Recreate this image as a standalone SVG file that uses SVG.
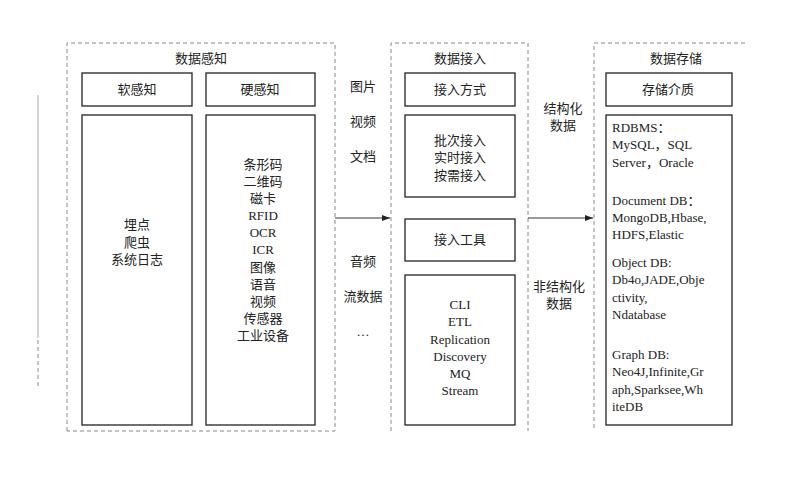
<svg xmlns="http://www.w3.org/2000/svg" width="800" height="500" viewBox="0 0 800 500">
<defs>
<style>
text{font-family:"Liberation Serif","Noto Sans CJK SC",serif;font-size:13px;fill:#222}
.c{text-anchor:middle}
.dash{fill:none;stroke:#888;stroke-width:1;stroke-dasharray:4,3}
.box{fill:#fff;stroke:#222;stroke-width:1.3}
.ln{stroke:#333;stroke-width:1;fill:none}
</style>
<marker id="ah" markerWidth="8" markerHeight="6" refX="8" refY="3" orient="auto" markerUnits="userSpaceOnUse"><path d="M0,0L8,3L0,6z" fill="#222"/></marker>
</defs>
<rect width="800" height="500" fill="#fff"/>
<line x1="38" y1="95" x2="38" y2="338" stroke="#aaa"/>
<line x1="38" y1="340" x2="38" y2="388" class="dash"/>
<g id="sense">
<path class="dash" d="M67,431V43H335V431H67"/>
<text class="c" x="201" y="63">数据感知</text>
</g>
<g id="soft"><rect class="box" x="82" y="73" width="110" height="33"/><text class="c" x="137" y="94">软感知</text></g>
<g id="hard"><rect class="box" x="206" y="73" width="109" height="33"/><text class="c" x="260" y="94">硬感知</text></g>
<g id="softlist"><rect class="box" x="82" y="115" width="110" height="310"/>
<text class="c" x="137" y="229">埋点</text><text class="c" x="137" y="247">爬虫</text><text class="c" x="137" y="264">系统日志</text></g>
<g id="hardlist"><rect class="box" x="206" y="115" width="109" height="310"/>
<text class="c" x="263" y="169">条形码</text><text class="c" x="263" y="186">二维码</text><text class="c" x="263" y="203">磁卡</text><text class="c" x="263" y="220">RFID</text><text class="c" x="263" y="237">OCR</text><text class="c" x="263" y="254">ICR</text><text class="c" x="263" y="272">图像</text><text class="c" x="263" y="289">语音</text><text class="c" x="263" y="306">视频</text><text class="c" x="263" y="323">传感器</text><text class="c" x="263" y="340">工业设备</text></g>
<g id="types">
<text class="c" x="363" y="91">图片</text><text class="c" x="363" y="126">视频</text><text class="c" x="363" y="161">文档</text>
<text class="c" x="363" y="266">音频</text><text class="c" x="363" y="301">流数据</text><text class="c" x="363" y="336">…</text>
</g>
<g id="access">
<path class="dash" d="M391,431V43H528V431"/>
<text class="c" x="460" y="63">数据接入</text>
</g>
<g id="mode"><rect class="box" x="405" y="73" width="110" height="33"/><text class="c" x="460" y="94">接入方式</text></g>
<g id="modes"><rect class="box" x="405" y="115" width="110" height="82"/>
<text class="c" x="460" y="145">批次接入</text><text class="c" x="460" y="162">实时接入</text><text class="c" x="460" y="180">按需接入</text></g>
<g id="tool"><rect class="box" x="405" y="219" width="110" height="42"/><text class="c" x="460" y="244">接入工具</text></g>
<g id="tools"><rect class="box" x="405" y="275" width="110" height="150"/>
<text class="c" x="460" y="309">CLI</text><text class="c" x="460" y="326">ETL</text><text class="c" x="460" y="344">Replication</text><text class="c" x="460" y="361">Discovery</text><text class="c" x="460" y="378">MQ</text><text class="c" x="460" y="395">Stream</text></g>
<g id="dlabels">
<text class="c" x="563" y="113">结构化</text><text class="c" x="563" y="130">数据</text>
<text class="c" x="559" y="291">非结构化</text><text class="c" x="559" y="308">数据</text>
</g>
<g id="storage">
<path class="dash" d="M745,43H594V431"/>
<text class="c" x="676" y="63">数据存储</text>
</g>
<g id="medium"><rect class="box" x="606" y="73" width="126" height="33"/><text class="c" x="668" y="94">存储介质</text></g>
<g id="dbs"><rect class="box" x="606" y="115" width="126" height="310"/>
<text x="612" y="132">RDBMS：</text><text x="612" y="149">MySQL，SQL</text><text x="612" y="167">Server，Oracle</text>
<text x="612" y="205">Document DB：</text><text x="612" y="222">MongoDB,Hbase,</text><text x="612" y="239">HDFS,Elastic</text>
<text x="612" y="267">Object DB:</text><text x="612" y="284">Db4o,JADE,Obje</text><text x="612" y="302">ctivity,</text><text x="612" y="319">Ndatabase</text>
<text x="612" y="359">Graph DB:</text><text x="612" y="376">Neo4J,Infinite,Gr</text><text x="612" y="394">aph,Sparksee,Wh</text><text x="612" y="411">iteDB</text></g>
<g id="connectors">
<line class="ln" x1="335" y1="218" x2="390" y2="218" marker-end="url(#ah)"/>
<line class="ln" x1="528" y1="218" x2="593" y2="218" marker-end="url(#ah)"/>
</g>
</svg>
